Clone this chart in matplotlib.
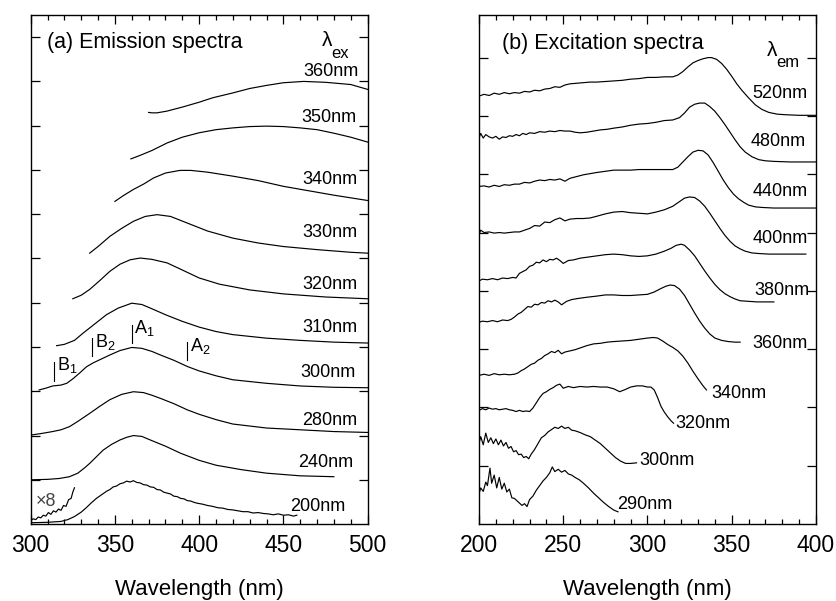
import matplotlib
matplotlib.use("Agg")
import matplotlib.pyplot as plt
from matplotlib.ticker import MultipleLocator

plt.rcParams['font.family'] = ['Liberation Sans', 'DejaVu Sans']
plt.rcParams['mathtext.fontset'] = 'custom'
plt.rcParams['mathtext.rm'] = 'Liberation Sans'
plt.rcParams['mathtext.it'] = 'Liberation Sans'

# ---- (a) emission spectra, offset traces (x in nm, y in offset units) ----
em360_x = [370, 372, 375, 381, 390, 400, 408, 420, 430, 440, 450, 462, 475, 490, 500]
em360_y = [9.30, 9.29, 9.29, 9.33, 9.42, 9.53, 9.63, 9.74, 9.84, 9.91, 9.97, 10.0, 9.98, 9.93, 9.82]
em350_x = [359.5, 365, 372, 381, 390, 400, 410, 420, 430, 440, 450, 460, 470, 480, 490, 500]
em350_y = [8.25, 8.33, 8.44, 8.61, 8.74, 8.84, 8.91, 8.95, 8.98, 8.99, 8.98, 8.95, 8.91, 8.83, 8.74, 8.63]
em340_x = [350, 355, 361, 367, 373, 380, 388.6, 395, 405, 420, 435, 450, 465, 480, 490, 500]
em340_y = [7.29, 7.42, 7.56, 7.68, 7.82, 7.93, 7.99, 7.99, 7.95, 7.86, 7.76, 7.63, 7.53, 7.43, 7.37, 7.31]
em330_x = [335, 340, 347, 354, 361, 368, 375, 383, 393, 405, 420, 435, 450, 470, 490, 500]
em330_y = [6.12, 6.27, 6.50, 6.68, 6.84, 6.95, 6.99, 6.95, 6.80, 6.62, 6.46, 6.35, 6.27, 6.20, 6.14, 6.12]
em320_x = [325, 330, 335, 341, 347, 353, 359, 365, 372, 381, 390, 400, 412, 430, 450, 475, 500]
em320_y = [5.09, 5.17, 5.30, 5.50, 5.71, 5.87, 5.97, 6.01, 5.98, 5.90, 5.74, 5.56, 5.42, 5.29, 5.20, 5.13, 5.09]
em310_x = [315.4, 320, 326, 331, 338, 345, 352, 360, 366, 371, 380, 390, 400, 410, 420, 440, 460, 480, 500]
em310_y = [4.03, 4.06, 4.15, 4.31, 4.52, 4.73, 4.88, 4.99, 4.96, 4.88, 4.73, 4.58, 4.45, 4.35, 4.28, 4.20, 4.15, 4.11, 4.09]
em300_x = [305, 309, 313, 318, 321.4, 325, 329, 333, 337, 342, 347, 353, 360, 366, 372, 377, 385, 393,
           400, 410, 420, 440, 460, 480, 500]
em300_y = [3.03, 3.07, 3.12, 3.14, 3.18, 3.28, 3.41, 3.55, 3.64, 3.73, 3.82, 3.92, 3.99, 3.97, 3.90, 3.82, 3.70, 3.56,
           3.46, 3.35, 3.26, 3.18, 3.12, 3.09, 3.08]
em280_x = [300, 307, 313, 318, 323, 328, 335, 341, 347, 354, 361, 367, 372, 377, 385, 393, 400, 410, 420, 440, 460, 480, 500]
em280_y = [2.01, 2.05, 2.09, 2.13, 2.20, 2.32, 2.50, 2.66, 2.81, 2.93, 2.99, 2.97, 2.91, 2.84, 2.72, 2.58, 2.48, 2.36,
           2.26, 2.17, 2.13, 2.09, 2.07]
em240_x = [300, 310, 317, 323, 328, 332, 335, 339, 343, 348, 353, 357, 361, 366, 371, 380, 389, 400, 410, 425, 440, 460, 480]
em240_y = [1.00, 1.01, 1.03, 1.07, 1.15, 1.27, 1.37, 1.52, 1.67, 1.80, 1.90, 1.96, 2.00, 1.98, 1.90, 1.76, 1.60, 1.44,
           1.33, 1.23, 1.15, 1.09, 1.07]
em200_x = [300, 310, 318, 322, 326, 330, 333, 336, 339, 342, 345, 347, 349, 351, 353, 355, 357, 359, 361, 363, 365,
           367, 369, 371, 373, 375, 377, 379, 381, 383, 385, 387, 389, 391, 393, 395, 397, 399, 402, 405, 408, 411,
           414, 417, 420, 423, 426, 429, 432, 435, 438, 441, 444, 447, 450, 453, 456, 458]
em200_y = [0.03, 0.04, 0.06, 0.10, 0.17, 0.27, 0.37, 0.48, 0.58, 0.66, 0.74, 0.78, 0.84, 0.86, 0.91, 0.93, 0.97, 0.95,
           0.98, 0.94, 0.93, 0.89, 0.88, 0.84, 0.83, 0.78, 0.77, 0.72, 0.70, 0.68, 0.63, 0.62, 0.58, 0.57, 0.53, 0.52,
           0.49, 0.47, 0.45, 0.42, 0.40, 0.37, 0.36, 0.33, 0.32, 0.30, 0.28, 0.28, 0.25, 0.26, 0.24, 0.23, 0.21, 0.23,
           0.20, 0.21, 0.18, 0.20]
em200x8_x = [300, 301.5, 303, 304.5, 306, 307.5, 309, 310.5, 312, 313.5, 315, 316.5, 318, 319.5, 321, 322.5, 324, 325, 326]
em200x8_y = [0.08, 0.12, 0.10, 0.16, 0.14, 0.20, 0.18, 0.26, 0.22, 0.30, 0.27, 0.34, 0.31, 0.42, 0.40, 0.55, 0.58, 0.72, 0.82]

em_labels = ['360nm', '350nm', '340nm', '330nm', '320nm', '310nm', '300nm', '280nm', '240nm', '200nm']
em_label_x = [494.5, 493.5, 494, 494, 494, 494, 493, 494, 491.5, 487]
em_label_y = [10.23, 9.18, 7.78, 6.58, 5.41, 4.44, 3.43, 2.35, 1.39, 0.39]

peak_names = ['B$_1$', 'B$_2$', 'A$_1$', 'A$_2$']
peak_x = [314, 336.6, 359.9, 393]
peak_lo = [3.24, 3.79, 4.10, 3.71]
peak_hi = [3.67, 4.20, 4.50, 4.11]

# ---- (b) excitation spectra ----
ex520_x = [200, 203, 206, 209, 212, 215, 218, 221, 224, 227, 230, 233, 236, 239, 242, 245, 248, 251, 254, 258, 262,
           266, 270, 275, 280, 285, 290, 295, 300, 305, 310, 315, 318, 321, 324, 327, 330, 333, 336, 338, 341, 344,
           347, 350, 353, 356, 360, 364, 368, 372, 377, 382, 390, 400]
ex520_y = [7.34, 7.37, 7.35, 7.39, 7.37, 7.40, 7.38, 7.40, 7.39, 7.42, 7.41, 7.44, 7.43, 7.46, 7.47, 7.50, 7.49, 7.53,
           7.55, 7.56, 7.57, 7.58, 7.58, 7.59, 7.60, 7.61, 7.63, 7.64, 7.66, 7.66, 7.67, 7.67, 7.70, 7.76, 7.84, 7.91,
           7.95, 7.98, 8.00, 8.00, 7.97, 7.90, 7.80, 7.68, 7.55, 7.44, 7.31, 7.19, 7.11, 7.06, 7.03, 7.02, 7.01, 7.01]
ex480_x = [200, 201, 202.5, 204, 206, 208, 210, 212, 214, 216, 218, 220, 222, 224, 226, 228, 230, 233, 236, 239, 242,
           245, 248, 251, 254, 257, 260, 264, 268, 272, 276, 280, 285, 290, 295, 300, 305, 310, 315, 319, 322, 325,
           328, 331, 334, 337, 340, 343, 346, 349, 352, 355, 358, 362, 366, 370, 375, 385, 400]
ex480_y = [6.62, 6.70, 6.62, 6.68, 6.64, 6.62, 6.65, 6.60, 6.64, 6.63, 6.66, 6.65, 6.68, 6.66, 6.70, 6.68, 6.71, 6.70,
           6.73, 6.72, 6.74, 6.73, 6.75, 6.74, 6.74, 6.72, 6.71, 6.72, 6.74, 6.76, 6.77, 6.79, 6.81, 6.84, 6.86, 6.87,
           6.89, 6.92, 6.93, 6.97, 7.05, 7.15, 7.20, 7.22, 7.22, 7.16, 7.08, 6.97, 6.85, 6.72, 6.59, 6.47, 6.38, 6.30,
           6.25, 6.23, 6.22, 6.21, 6.21]
ex440_x = [200, 203, 206, 209, 212, 215, 218, 221, 224, 227, 230, 233, 236, 239, 242, 245, 248, 251, 254, 258, 262,
           266, 270, 275, 280, 285, 290, 295, 300, 305, 310, 315, 318, 321, 324, 327, 330, 333, 336, 339, 342, 345,
           348, 351, 354, 357, 360, 364, 368, 375, 385, 400]
ex440_y = [5.79, 5.80, 5.78, 5.81, 5.79, 5.82, 5.81, 5.83, 5.83, 5.86, 5.85, 5.88, 5.90, 5.89, 5.91, 5.90, 5.92, 5.88,
           5.93, 5.96, 5.99, 6.01, 6.03, 6.05, 6.07, 6.07, 6.07, 6.08, 6.08, 6.08, 6.08, 6.08, 6.12, 6.21, 6.30, 6.38,
           6.41, 6.40, 6.33, 6.20, 6.05, 5.90, 5.77, 5.66, 5.58, 5.52, 5.47, 5.44, 5.43, 5.42, 5.42, 5.42]
ex400_x = [200, 201, 203, 206, 209, 212, 215, 218, 221, 224, 227, 230, 233, 236, 239, 242, 245, 248, 251, 254, 258,
           262, 266, 270, 275, 280, 285, 290, 295, 300, 305, 310, 315, 319, 322, 325, 328, 331, 334, 337, 340, 343,
           346, 349, 352, 355, 358, 362, 366, 372, 380, 394]
ex400_y = [4.97, 5.04, 5.00, 5.01, 4.99, 5.00, 4.99, 5.00, 5.01, 5.01, 5.04, 5.07, 5.12, 5.11, 5.18, 5.17, 5.22, 5.25,
           5.20, 5.23, 5.24, 5.24, 5.25, 5.28, 5.32, 5.35, 5.36, 5.34, 5.33, 5.32, 5.35, 5.39, 5.45, 5.53, 5.59, 5.61,
           5.60, 5.54, 5.45, 5.33, 5.20, 5.07, 4.95, 4.85, 4.77, 4.72, 4.68, 4.65, 4.64, 4.63, 4.63, 4.63]
ex380_x = [200, 202, 205, 208, 211, 214, 217, 220, 222, 224, 226, 228, 230, 232, 234, 236, 238, 240, 242, 244, 246,
           248, 250, 253, 256, 260, 265, 270, 275, 280, 285, 290, 295, 300, 305, 310, 314, 317, 320, 322, 325, 328,
           331, 334, 337, 340, 343, 346, 349, 352, 355, 360, 365, 370, 375]
ex380_y = [4.17, 4.20, 4.19, 4.21, 4.19, 4.22, 4.21, 4.23, 4.22, 4.30, 4.33, 4.36, 4.42, 4.44, 4.49, 4.48, 4.53, 4.50,
           4.54, 4.53, 4.56, 4.52, 4.47, 4.52, 4.53, 4.56, 4.58, 4.60, 4.62, 4.63, 4.62, 4.60, 4.59, 4.60, 4.63, 4.68,
           4.73, 4.78, 4.80, 4.78, 4.70, 4.60, 4.47, 4.34, 4.22, 4.11, 4.02, 3.95, 3.90, 3.86, 3.83, 3.82, 3.81, 3.81,
           3.81]
ex360_x = [200, 202, 205, 208, 211, 214, 217, 219, 221, 223, 225, 227, 229, 231, 233, 235, 237, 239, 241, 243, 245,
           247, 249, 252, 255, 259, 264, 270, 275, 280, 285, 290, 295, 300, 304, 308, 311, 313.5, 316, 319, 322, 325,
           328, 331, 334, 337, 340, 344, 348, 352, 355]
ex360_y = [3.46, 3.48, 3.47, 3.49, 3.47, 3.50, 3.49, 3.51, 3.55, 3.60, 3.63, 3.68, 3.73, 3.72, 3.77, 3.76, 3.80, 3.79,
           3.83, 3.81, 3.84, 3.81, 3.76, 3.82, 3.85, 3.87, 3.89, 3.91, 3.93, 3.93, 3.92, 3.92, 3.93, 3.94, 3.98, 4.04,
           4.08, 4.10, 4.09, 4.03, 3.92, 3.77, 3.62, 3.48, 3.36, 3.26, 3.19, 3.15, 3.13, 3.12, 3.12]
ex340_x = [200, 203, 206, 209, 212, 215, 218, 221, 223, 225, 227, 229, 231, 233, 235, 237, 239, 241, 243, 245, 247,
           249, 251, 254, 257, 260, 264, 268, 272, 276, 280, 285, 290, 295, 300, 303.5, 306, 309, 312, 315, 318, 321,
           324, 327, 330, 333, 335]
ex340_y = [2.55, 2.57, 2.55, 2.58, 2.56, 2.57, 2.56, 2.57, 2.59, 2.63, 2.66, 2.70, 2.74, 2.76, 2.81, 2.84, 2.89, 2.92,
           2.96, 2.94, 2.98, 2.92, 2.95, 2.97, 2.99, 3.02, 3.06, 3.09, 3.10, 3.12, 3.13, 3.14, 3.15, 3.17, 3.19, 3.20,
           3.19, 3.14, 3.08, 3.03, 2.97, 2.88, 2.76, 2.62, 2.49, 2.37, 2.30]
ex320_x = [200, 202, 204, 206, 208, 210, 212, 214, 216, 218, 220, 222, 224, 226, 228, 230, 232, 234, 236, 238, 240,
           242, 244, 246, 248, 250, 253, 256, 260, 264, 268, 272, 276, 280, 283.5, 287, 290, 293.5, 297, 300, 302,
           304, 306, 308, 310, 312, 314, 315.5]
ex320_y = [1.95, 1.98, 1.96, 1.99, 1.97, 1.98, 1.96, 1.97, 1.98, 1.96, 1.95, 1.93, 1.95, 1.93, 1.94, 1.93, 1.99, 2.08,
           2.17, 2.24, 2.27, 2.31, 2.34, 2.38, 2.40, 2.33, 2.36, 2.34, 2.36, 2.35, 2.36, 2.35, 2.35, 2.32, 2.27, 2.31,
           2.35, 2.37, 2.37, 2.35, 2.35, 2.30, 2.17, 2.02, 1.92, 1.84, 1.77, 1.73]
ex300_x = [200, 201, 202.5, 204, 205.5, 207, 208.5, 210, 211.5, 213, 214.5, 216, 217.5, 219, 220.5, 222, 223.5, 225,
           226.5, 228, 229.5, 231, 233, 235, 237, 239, 241, 243, 245, 247, 249, 251, 253, 255, 257, 260, 263, 266,
           269, 272, 275, 278, 281, 284, 287, 290, 293.5]
ex300_y = [1.38, 1.50, 1.36, 1.56, 1.40, 1.48, 1.38, 1.46, 1.36, 1.44, 1.34, 1.40, 1.30, 1.33, 1.24, 1.26, 1.19, 1.20,
           1.14, 1.16, 1.12, 1.20, 1.28, 1.38, 1.48, 1.52, 1.58, 1.62, 1.66, 1.64, 1.68, 1.64, 1.66, 1.61, 1.60, 1.57,
           1.53, 1.50, 1.44, 1.38, 1.30, 1.22, 1.14, 1.08, 1.04, 1.04, 1.05]
ex290_x = [200, 201, 202.5, 204, 205, 206.5, 207.5, 209, 210.5, 212, 213.5, 215, 216.5, 218, 219.5, 221, 222.5, 224,
           225.5, 227, 228.5, 230, 232, 234, 236, 238, 240, 242, 243.5, 245, 247, 249, 251, 253, 255, 257, 259.5,
           262, 265, 268, 271, 274, 277, 280, 282.5]
ex290_y = [0.52, 0.62, 0.56, 0.72, 0.66, 0.96, 0.70, 0.84, 0.62, 0.80, 0.60, 0.70, 0.55, 0.60, 0.45, 0.44, 0.40, 0.36,
           0.32, 0.35, 0.30, 0.42, 0.48, 0.58, 0.66, 0.74, 0.80, 0.88, 0.98, 0.90, 0.94, 0.89, 0.92, 0.86, 0.84, 0.80,
           0.76, 0.70, 0.62, 0.53, 0.45, 0.37, 0.30, 0.24, 0.21]

ex_labels = ['520nm', '480nm', '440nm', '400nm', '380nm', '360nm', '340nm', '320nm', '300nm', '290nm']
ex_label_x = [378.6, 377.6, 378.6, 378.6, 379.6, 378.6, 354.3, 333.1, 311.4, 298.5]
ex_label_y = [7.39, 6.56, 5.71, 4.90, 4.01, 3.10, 2.24, 1.73, 1.09, 0.34]


def style_axes(ax, xlim, ylim, nticks):
    ax.set_xlim(*xlim)
    ax.set_ylim(*ylim)
    ax.xaxis.set_major_locator(MultipleLocator(50))
    ax.xaxis.set_minor_locator(MultipleLocator(10))
    ax.set_yticks(range(1, nticks + 1))
    ax.set_yticklabels([])
    ax.tick_params(which='both', direction='in', top=True, right=True, width=0.9)
    ax.tick_params(which='major', length=6.5, labelsize=16.5, pad=7)
    ax.tick_params(which='minor', length=3.6)
    ax.set_xlabel('Wavelength (nm)', fontsize=16, labelpad=16)
    for s in ax.spines.values():
        s.set_linewidth(1.0)


fig = plt.figure(figsize=(8.36, 6.01), dpi=100)
ax1 = fig.add_axes([0.0367, 0.128, 0.403, 0.847])
ax2 = fig.add_axes([0.573, 0.128, 0.403, 0.847])

lw = 0.85
lab_fs = 13
em_x = [em360_x, em350_x, em340_x, em330_x, em320_x, em310_x, em300_x, em280_x, em240_x, em200_x, em200x8_x]
em_y = [em360_y, em350_y, em340_y, em330_y, em320_y, em310_y, em300_y, em280_y, em240_y, em200_y, em200x8_y]
for xs, ys in zip(em_x, em_y):
    ax1.plot(xs, ys, color='black', lw=lw)
for lab, lx, ly in zip(em_labels, em_label_x, em_label_y):
    ax1.text(lx, ly, lab, ha='right', va='center', fontsize=lab_fs)
for name, px, lo, hi in zip(peak_names, peak_x, peak_lo, peak_hi):
    ax1.plot([px, px], [lo, hi], color='black', lw=0.8)
    ax1.text(px + 1.5, hi - 0.08, name, ha='left', va='center', fontsize=lab_fs)
ax1.text(309, 0.52, '×8', ha='center', va='center', fontsize=lab_fs, color='#444444')
ax1.text(309.5, 10.87, '(a) Emission spectra', ha='left', va='center', fontsize=15.5)
ax1.text(476, 10.92, 'λ', ha='center', va='center', fontsize=15)
ax1.text(478.5, 10.64, 'ex', ha='left', va='center', fontsize=12)
style_axes(ax1, (300, 500), (0, 11.5), 11)

ex_x = [ex520_x, ex480_x, ex440_x, ex400_x, ex380_x, ex360_x, ex340_x, ex320_x, ex300_x, ex290_x]
ex_y = [ex520_y, ex480_y, ex440_y, ex400_y, ex380_y, ex360_y, ex340_y, ex320_y, ex300_y, ex290_y]
for xs, ys in zip(ex_x, ex_y):
    ax2.plot(xs, ys, color='black', lw=lw)
for lab, lx, ly in zip(ex_labels, ex_label_x, ex_label_y):
    ax2.text(lx, ly, lab, ha='center', va='center', fontsize=lab_fs)
ax2.text(213.4, 8.25, '(b) Excitation spectra', ha='left', va='center', fontsize=15.5)
ax2.text(374, 8.12, 'λ', ha='center', va='center', fontsize=15)
ax2.text(376.5, 7.91, 'em', ha='left', va='center', fontsize=12)
style_axes(ax2, (200, 400), (0, 8.73), 8)

fig.savefig('out.png', dpi=100)
